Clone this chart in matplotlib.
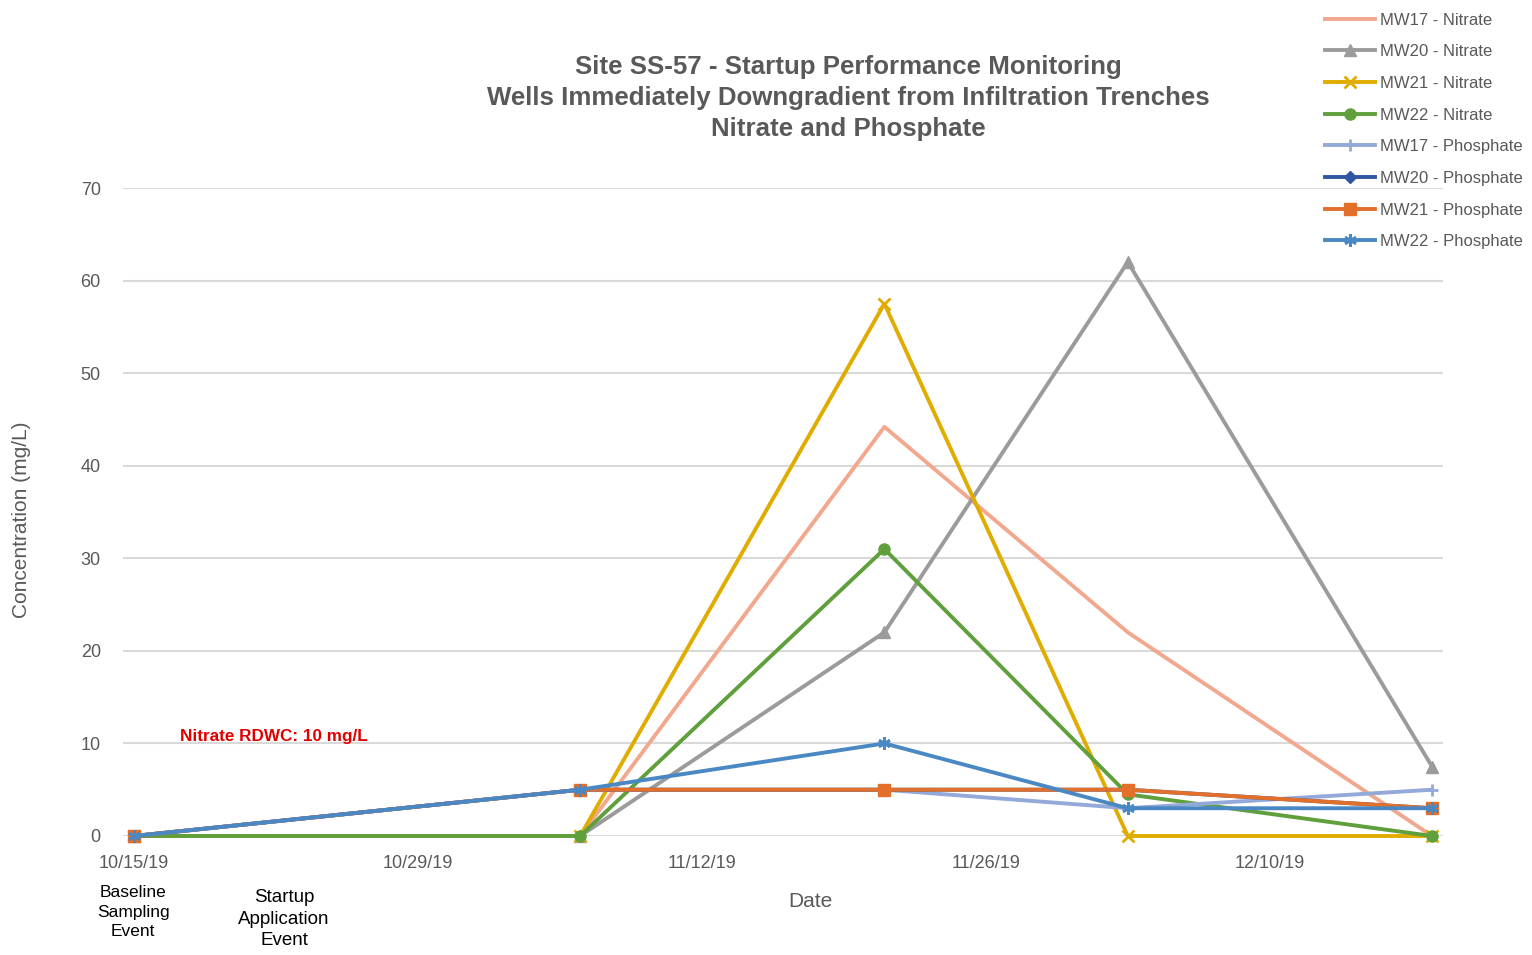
import matplotlib
matplotlib.use("Agg")
import matplotlib.pyplot as plt
import matplotlib.dates as mdates
from datetime import datetime, timedelta

plt.rcParams['font.family'] = ['Liberation Sans', 'DejaVu Sans']

dates = ["2019-10-15", "2019-11-06", "2019-11-21", "2019-12-03", "2019-12-18"]
series_names = ["MW17 - Nitrate", "MW20 - Nitrate", "MW21 - Nitrate", "MW22 - Nitrate",
                "MW17 - Phosphate", "MW20 - Phosphate", "MW21 - Phosphate", "MW22 - Phosphate"]
mw17_nitrate = [0, 0, 44.2, 22.0, 0]
mw20_nitrate = [0, 0, 22.0, 62.0, 7.5]
mw21_nitrate = [0, 0, 57.5, 0, 0]
mw22_nitrate = [0, 0, 31.0, 4.5, 0]
mw17_phosphate = [0, 5, 5, 3, 5]
mw20_phosphate = [0, 5, 5, 5, 3]
mw21_phosphate = [0, 5, 5, 5, 3]
mw22_phosphate = [0, 5, 10, 3, 3]
tick_dates = ["2019-10-15", "2019-10-29", "2019-11-12", "2019-11-26", "2019-12-10"]

values = [mw17_nitrate, mw20_nitrate, mw21_nitrate, mw22_nitrate,
          mw17_phosphate, mw20_phosphate, mw21_phosphate, mw22_phosphate]
colors = ["#F2A88E", "#9B9B9B", "#E0AC00", "#5FA03C",
          "#93A9DA", "#2F56A2", "#E2702A", "#4A88C4"]
markers = [None, "^", "x", "o", "+", "D", "s", (6, 2, 0)]
msizes = [0, 8, 9, 8, 9, 6, 8, 9]

x = [datetime.strptime(d, "%Y-%m-%d") for d in dates]
xt = [datetime.strptime(d, "%Y-%m-%d") for d in tick_dates]

fig = plt.figure(figsize=(15.32, 9.55), dpi=100)
ax = fig.add_axes([123/1532, 1-836/955, (1443-123)/1532, (836-188)/955])

handles = []
for name, v, c, m, ms in zip(series_names, values, colors, markers, msizes):
    h, = ax.plot(x, v, color=c, lw=2.8, marker=m, markersize=ms,
                 markeredgewidth=2 if m in ("x", "+", (6, 2, 0)) else 1,
                 markeredgecolor=c, label=name, clip_on=False, zorder=3)
    handles.append(h)

ax.set_xlim(x[0] - timedelta(days=0.54), x[-1] + timedelta(days=0.54))
ax.set_ylim(0, 70)
ax.set_yticks(range(0, 71, 10))
ax.set_xticks(xt)
ax.xaxis.set_major_formatter(mdates.DateFormatter("%m/%d/%y"))
ax.grid(axis='y', color="#D9D9D9", lw=1.5)
ax.set_axisbelow(True)
for s in ax.spines.values():
    s.set_visible(False)
ax.tick_params(axis='both', length=0, labelsize=13, labelcolor="#595959")
ax.tick_params(axis='y', pad=16)
ax.tick_params(axis='x', pad=14)

fig.text(22/1532, 1-520/955, "Concentration (mg/L)", rotation=90, ha='center', va='center',
         fontsize=15, color="#595959")
fig.text(810/1532, 1-901/955, "Date", ha='center', va='center', fontsize=15, color="#595959")

fig.text(848/1532, 1-98/955,
         "Site SS-57 - Startup Performance Monitoring\nWells Immediately Downgradient from Infiltration Trenches\nNitrate and Phosphate",
         ha='center', va='center', fontsize=18.6, fontweight='bold', color="#595959", linespacing=1.35)

fig.text(180/1532, 1-736/955, "Nitrate RDWC: 10 mg/L", ha='left', va='center',
         fontsize=12.3, fontweight='bold', color="#E00000")
fig.text(133/1532, 1-912/955, "Baseline\nSampling\nEvent", ha='center', va='center',
         fontsize=12.5, color="black", linespacing=1.35)
fig.text(284/1532, 1-919/955, "Startup\nApplication\nEvent", ha='center', va='center',
         fontsize=13.5, color="black", linespacing=1.35)

leg = fig.legend(handles=handles, loc='upper left', bbox_to_anchor=(1318/1532, 1-6/955),
                 frameon=False, fontsize=12, labelcolor="#595959", handlelength=3.0,
                 handletextpad=0.3, labelspacing=1.0, borderaxespad=0)

fig.savefig("out.png", dpi=100)
